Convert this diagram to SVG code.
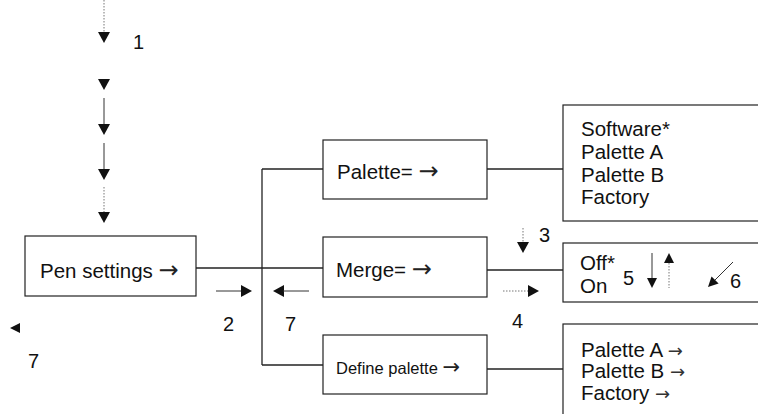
<svg xmlns="http://www.w3.org/2000/svg" width="758" height="414" viewBox="0 0 758 414">
<style>
text{font-family:"Liberation Sans",Arial,Helvetica,sans-serif;fill:#111}
.lbl{font-size:20.5px}
.sm{font-size:16.5px}
.num{font-size:20px}
.arr{font-family:"DejaVu Sans",sans-serif;font-size:24px;fill:#222}
.arrs{font-family:"DejaVu Sans",sans-serif;font-size:21px;fill:#222}
.arrt{font-family:"DejaVu Sans",sans-serif;font-size:18px;fill:#333}
.box{fill:#fff;stroke:#222;stroke-width:1.2}
.con{stroke:#222;stroke-width:1.3;fill:none}
.ln{stroke:#333;stroke-width:1;fill:none}
.dot{stroke:#777;stroke-width:1;stroke-dasharray:1.5,1.5;fill:none}
.ah{fill:#111}
</style>
<defs>
<path id="ah" d="M0,0 L-11,-6 L-11,6 Z"/>
<path id="ahs" d="M0,0 L-10,-5 L-10,5 Z"/>
</defs>
<g id="connectors">
<line class="con" x1="196" y1="268" x2="323" y2="268"/>
<line class="con" x1="262" y1="169" x2="262" y2="365"/>
<line class="con" x1="262" y1="169" x2="323" y2="169"/>
<line class="con" x1="262" y1="365" x2="323" y2="365"/>
<line class="con" x1="487" y1="169" x2="563" y2="169"/>
<line class="con" x1="487" y1="270" x2="563" y2="270"/>
<line class="con" x1="487" y1="369" x2="563" y2="369"/>
</g>
<g id="pen-settings">
<rect class="box" x="25" y="236" width="171" height="60"/>
<text class="lbl" x="40" y="278">Pen settings <tspan class="arr">→</tspan></text>
</g>
<g id="palette">
<rect class="box" x="323" y="140" width="164" height="59"/>
<text class="lbl" x="337" y="179">Palette= <tspan class="arr">→</tspan></text>
</g>
<g id="merge">
<rect class="box" x="323" y="237" width="164" height="60"/>
<text class="lbl" x="336" y="277">Merge= <tspan class="arr">→</tspan></text>
</g>
<g id="define-palette">
<rect class="box" x="323" y="335" width="164" height="59"/>
<text class="sm" x="336" y="374">Define palette <tspan class="arrs">→</tspan></text>
</g>
<g id="palette-options">
<rect class="box" x="563" y="105" width="200" height="116"/>
<text class="lbl" x="581" y="136">Software*</text>
<text class="lbl" x="581" y="159">Palette A</text>
<text class="lbl" x="581" y="182">Palette B</text>
<text class="lbl" x="581" y="204">Factory</text>
</g>
<g id="merge-options">
<rect class="box" x="563" y="243" width="200" height="59"/>
<text class="lbl" x="580" y="270">Off*</text>
<text class="lbl" x="580" y="293">On</text>
</g>
<g id="define-options">
<rect class="box" x="563" y="324" width="200" height="100"/>
<text class="lbl" x="581" y="357">Palette A <tspan class="arrt">→</tspan></text>
<text class="lbl" x="581" y="378">Palette B <tspan class="arrt">→</tspan></text>
<text class="lbl" x="581" y="400">Factory <tspan class="arrt">→</tspan></text>
</g>
<g id="annotations">
<line class="dot" x1="104" y1="0" x2="104" y2="32"/>
<use href="#ah" class="ah" transform="translate(104,43) rotate(90)"/>
<text class="num" x="133" y="49">1</text>
<use href="#ah" class="ah" transform="translate(104,90) rotate(90)"/>
<line class="ln" x1="104" y1="98" x2="104" y2="124"/>
<use href="#ah" class="ah" transform="translate(104,135) rotate(90)"/>
<line class="ln" x1="104" y1="143" x2="104" y2="169"/>
<use href="#ah" class="ah" transform="translate(104,180) rotate(90)"/>
<line class="dot" x1="104" y1="187" x2="104" y2="213"/>
<use href="#ah" class="ah" transform="translate(104,223) rotate(90)"/>

<line class="ln" x1="216" y1="291" x2="242" y2="291"/>
<use href="#ah" class="ah" transform="translate(252,291)"/>
<text class="num" x="223" y="331">2</text>

<use href="#ah" class="ah" transform="translate(273,291) rotate(180)"/>
<line class="ln" x1="283" y1="291" x2="309" y2="291"/>
<text class="num" x="285" y="331">7</text>

<use href="#ahs" class="ah" transform="translate(10,328) rotate(180)"/>
<text class="num" x="28" y="368">7</text>

<line class="dot" x1="523" y1="228" x2="523" y2="243"/>
<use href="#ah" class="ah" transform="translate(523,253) rotate(90)"/>
<text class="num" x="539" y="242">3</text>

<line class="dot" x1="503" y1="291" x2="529" y2="291"/>
<use href="#ah" class="ah" transform="translate(539,291)"/>
<text class="num" x="512" y="328">4</text>

<text class="num" x="623" y="285">5</text>
<line class="ln" x1="652" y1="253" x2="652" y2="278"/>
<use href="#ahs" class="ah" transform="translate(652,288) rotate(90)"/>
<use href="#ahs" class="ah" transform="translate(669,253) rotate(-90)"/>
<line class="dot" x1="669" y1="263" x2="669" y2="288"/>

<line class="ln" x1="733" y1="262" x2="714" y2="281"/>
<use href="#ahs" class="ah" transform="translate(708,287) rotate(135)"/>
<text class="num" x="730" y="288">6</text>
</g>
</svg>
